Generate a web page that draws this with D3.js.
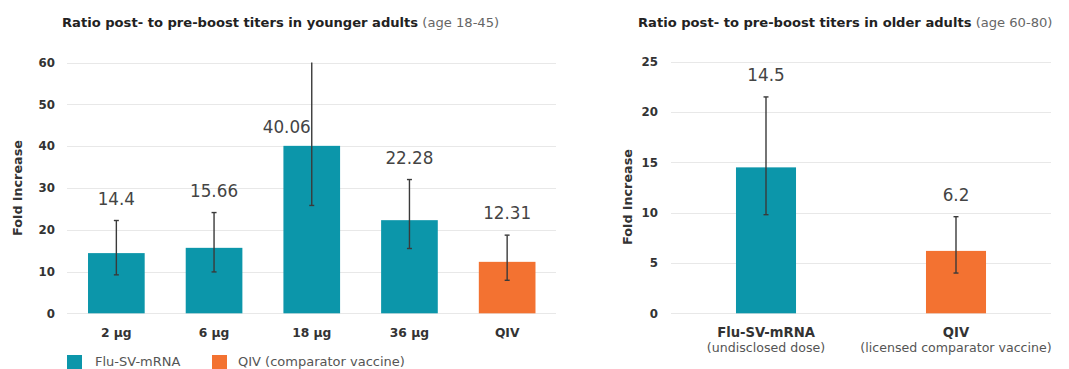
<!DOCTYPE html>
<html>
<head>
<meta charset="utf-8">
<script src="https://cdn.jsdelivr.net/npm/d3@7"></script>
<style>
  html, body { margin: 0; padding: 0; background: #ffffff; }
  svg { display: block; font-family: "DejaVu Sans", Verdana, sans-serif; }
</style>
</head>
<body>
<svg id="chart" width="1069" height="369"></svg>
<script>
// ---------- data ----------
const youngCategories = ["2 µg", "6 µg", "18 µg", "36 µg", "QIV"];
const youngSeries     = ["Flu-SV-mRNA", "Flu-SV-mRNA", "Flu-SV-mRNA", "Flu-SV-mRNA", "QIV"];
const youngValues     = [14.4, 15.66, 40.06, 22.28, 12.31];
const youngErrLow     = [9.2, 9.9, 25.8, 15.5, 7.9];
const youngErrHigh    = [22.2, 24.1, 60, 32.0, 18.7];
const youngTicks      = [0, 10, 20, 30, 40, 50, 60];

const olderCategories = ["Flu-SV-mRNA", "QIV"];
const olderSubLabels  = ["(undisclosed dose)", "(licensed comparator vaccine)"];
const olderSeries     = ["Flu-SV-mRNA", "QIV"];
const olderValues     = [14.5, 6.2];
const olderErrLow     = [9.8, 4.0];
const olderErrHigh    = [21.5, 9.6];
const olderTicks      = [0, 5, 10, 15, 20, 25];

const legendItems = ["Flu-SV-mRNA", "QIV (comparator vaccine)"];

// ---------- styles ----------
const color = d3.scaleOrdinal()
  .domain(["Flu-SV-mRNA", "QIV"])
  .range(["#0c96aa", "#f37231"]);

const svg = d3.select("#chart");

function panel(opts) {
  const g = svg.append("g");
  const x = d3.scaleBand().domain(opts.categories)
    .range([opts.x0, opts.x1]).paddingInner(opts.padInner).paddingOuter(opts.padOuter);
  const y = d3.scaleLinear().domain([0, opts.max]).range([opts.yBottom, opts.yTop]);

  // title
  const t = g.append("text").attr("x", opts.titleX).attr("y", 26.5)
    .attr("font-size", 13.1).attr("fill", "#222");
  t.append("tspan").attr("font-weight", "bold").text(opts.title);
  t.append("tspan").attr("fill", "#666").text(" " + opts.titleSub);

  // gridlines
  g.append("g").selectAll("line").data(opts.ticks).join("line")
    .attr("x1", opts.gridX0).attr("x2", opts.gridX1)
    .attr("y1", d => Math.round(y(d)) + 0.5).attr("y2", d => Math.round(y(d)) + 0.5)
    .attr("stroke", "#e8e8e8").attr("stroke-width", 1);

  // y axis (labels only)
  const ya = g.append("g").attr("transform", `translate(${opts.gridX0},0)`)
    .call(d3.axisLeft(y).tickValues(opts.ticks).tickSize(0).tickPadding(opts.tickPad));
  ya.select(".domain").remove();
  ya.selectAll("text").attr("font-family", "DejaVu Sans, Verdana, sans-serif")
    .attr("font-size", 11.8).attr("font-weight", "bold").attr("fill", "#333");

  // y title
  g.append("text")
    .attr("transform", `translate(${opts.yTitleX},${opts.yTitleY}) rotate(-90)`)
    .attr("text-anchor", "middle").attr("dominant-baseline", "central")
    .attr("font-size", 12.8).attr("font-weight", "bold").attr("fill", "#333")
    .text("Fold increase");

  // bars
  g.append("g").selectAll("rect").data(opts.values).join("rect")
    .attr("x", (d, i) => x(opts.categories[i]))
    .attr("width", x.bandwidth())
    .attr("y", d => y(d))
    .attr("height", d => y(0) - y(d))
    .attr("fill", (d, i) => color(opts.series[i]));

  // error bars
  const eb = g.append("g").attr("stroke", "#3a3a3a").attr("stroke-width", 1.4);
  opts.values.forEach((v, i) => {
    const cx = x(opts.categories[i]) + x.bandwidth() / 2;
    const hi = y(Math.min(opts.errHigh[i], opts.max));
    const lo = y(opts.errLow[i]);
    eb.append("line").attr("x1", cx).attr("x2", cx).attr("y1", hi).attr("y2", lo);
    if (opts.errHigh[i] < opts.max) {
      eb.append("line").attr("x1", cx - 2.5).attr("x2", cx + 2.5).attr("y1", hi).attr("y2", hi);
    }
    eb.append("line").attr("x1", cx - 2.5).attr("x2", cx + 2.5).attr("y1", lo).attr("y2", lo);
  });

  // value labels
  opts.values.forEach((v, i) => {
    const cx = x(opts.categories[i]) + x.bandwidth() / 2;
    const clipped = opts.errHigh[i] >= opts.max;
    g.append("text")
      .attr("x", clipped ? cx - 1 : cx)
      .attr("y", clipped ? y(v) - 13 : y(opts.errHigh[i]) - 16)
      .attr("text-anchor", clipped ? "end" : "middle")
      .attr("font-size", 16.8).attr("fill", "#444")
      .text(String(v));
  });

  // x labels
  const xl = g.append("g");
  opts.categories.forEach((c, i) => {
    const cx = x(c) + x.bandwidth() / 2;
    xl.append("text").attr("x", cx).attr("y", 337)
      .attr("text-anchor", "middle").attr("font-size", opts.xFont).attr("font-weight", "bold")
      .attr("fill", "#333").text(c);
    if (opts.sub) {
      xl.append("text").attr("x", cx).attr("y", 352)
        .attr("text-anchor", "middle").attr("font-size", 12.6)
        .attr("fill", "#555").text(opts.sub[i]);
    }
  });
  return g;
}

panel({
  categories: youngCategories, series: youngSeries, values: youngValues,
  errLow: youngErrLow, errHigh: youngErrHigh, ticks: youngTicks, max: 60,
  x0: 67.5, x1: 556, padInner: 0.42, padOuter: 0.21,
  gridX0: 67, gridX1: 556, yBottom: 313.3, yTop: 62.5, tickPad: 12, xFont: 12.3,
  title: "Ratio post- to pre-boost titers in younger adults", titleSub: "(age 18-45)", titleX: 62,
  yTitleX: 17, yTitleY: 188
});

panel({
  categories: olderCategories, series: olderSeries, values: olderValues,
  errLow: olderErrLow, errHigh: olderErrHigh, ticks: olderTicks, max: 25,
  x0: 671, x1: 1051, padInner: 0.684, padOuter: 0.342,
  gridX0: 671, gridX1: 1051, yBottom: 313.3, yTop: 61.7, tickPad: 13, xFont: 13.2,
  title: "Ratio post- to pre-boost titers in older adults", titleSub: "(age 60-80)", titleX: 638,
  sub: olderSubLabels,
  yTitleX: 627, yTitleY: 197
});

// legend
const leg = svg.append("g");
const legX = [67, 212];
const legTextX = [95, 238];
legendItems.forEach((name, i) => {
  leg.append("rect").attr("x", legX[i]).attr("y", 355).attr("width", 15).attr("height", 15)
    .attr("fill", color(i === 0 ? "Flu-SV-mRNA" : "QIV"));
  leg.append("text").attr("x", legTextX[i]).attr("y", 365.5)
    .attr("font-size", 13).attr("fill", "#555").text(name);
});
</script>
</body>
</html>
